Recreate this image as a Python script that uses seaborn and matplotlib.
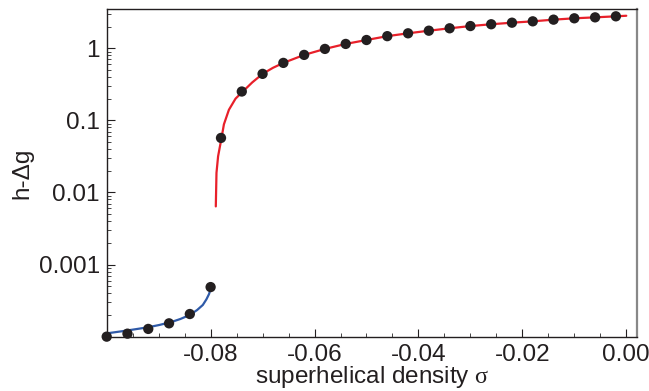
import matplotlib
matplotlib.use("Agg")
import matplotlib.pyplot as plt
import matplotlib.ticker as mticker
import seaborn as sns
import pandas as pd

# data points
sigma_low = [-0.100, -0.096, -0.092, -0.088, -0.084, -0.080]
dg_low = [1.0e-4, 1.1e-4, 1.28e-4, 1.53e-4, 2.06e-4, 4.87e-4]

sigma_high = [-0.078, -0.074, -0.070, -0.066, -0.062, -0.058, -0.054, -0.050,
              -0.046, -0.042, -0.038, -0.034, -0.030, -0.026, -0.022, -0.018,
              -0.014, -0.010, -0.006, -0.002]
dg_high = [0.057, 0.251, 0.441, 0.626, 0.808, 0.978, 1.147, 1.30, 1.47, 1.61,
           1.75, 1.89, 2.03, 2.15, 2.26, 2.36, 2.49, 2.60, 2.68, 2.77]

# fitted curves
fit_low_x = [-0.1000, -0.0970, -0.0947, -0.0920, -0.0899, -0.0875, -0.0858,
             -0.0840, -0.0826, -0.0815, -0.0808, -0.0803, -0.0800]
fit_low_y = [1.11e-4, 1.19e-4, 1.26e-4, 1.35e-4, 1.45e-4, 1.60e-4, 1.76e-4,
             2.00e-4, 2.34e-4, 2.75e-4, 3.30e-4, 3.90e-4, 4.60e-4]

fit_high_x = [-0.0790, -0.07887, -0.07856, -0.0779, -0.07744, -0.07648, -0.0752,
              -0.0738, -0.0720, -0.070, -0.068, -0.066, -0.062, -0.058, -0.054,
              -0.050, -0.046, -0.042, -0.038, -0.034, -0.030, -0.026, -0.022,
              -0.018, -0.014, -0.010, -0.006, -0.002, 0.000]
fit_high_y = [0.0064, 0.0187, 0.0317, 0.057, 0.088, 0.140, 0.200,
              0.251, 0.335, 0.441, 0.535, 0.626, 0.808, 0.978, 1.147,
              1.30, 1.47, 1.61, 1.75, 1.89, 2.03, 2.15, 2.26,
              2.36, 2.49, 2.60, 2.68, 2.77, 2.82]

y_ticks = [0.001, 0.01, 0.1, 1]
y_labels = ["0.001", "0.01", "0.1", "1"]
x_ticks = [-0.08, -0.06, -0.04, -0.02, 0.0]
x_labels = ["-0.08", "-0.06", "-0.04", "-0.02", "0.00"]

sns.set_style("ticks")
plt.rcParams['font.family'] = ['Liberation Sans', 'DejaVu Sans']
plt.rcParams['mathtext.fontset'] = 'custom'
plt.rcParams['mathtext.rm'] = 'Liberation Serif'

fig = plt.figure(figsize=(6.49, 3.91), dpi=100)
ax = fig.add_axes([0.1644, 0.139, 0.8166, 0.838])

sns.lineplot(x=fit_low_x, y=fit_low_y, ax=ax, color="#2f5aa8", lw=1.6, sort=False)
sns.lineplot(x=fit_high_x, y=fit_high_y, ax=ax, color="#e8202a", lw=1.6, sort=False)
dots = pd.DataFrame({"sigma": sigma_low + sigma_high, "dg": dg_low + dg_high})
sns.scatterplot(data=dots, x="sigma", y="dg", ax=ax, color="#231f20", s=55,
                edgecolor="none", zorder=5, clip_on=False)

ax.set_yscale("log")
ax.set_ylim(1e-4, 3.5)
ax.set_xlim(-0.1, 0.002)

ax.set_yticks(y_ticks)
ax.set_yticklabels(y_labels)
ax.yaxis.set_minor_locator(mticker.LogLocator(base=10, subs=range(2, 10)))
ax.yaxis.set_minor_formatter(mticker.NullFormatter())
ax.set_xticks(x_ticks)
ax.set_xticklabels(x_labels)
ax.xaxis.set_minor_locator(mticker.MultipleLocator(0.005))

ax.tick_params(axis="both", which="major", direction="in", length=6, width=0.8,
               labelsize=17.5, pad=5, colors="#231f20")
ax.tick_params(axis="both", which="minor", direction="in", length=3, width=0.6)

for side in ["top", "left", "bottom"]:
    ax.spines[side].set_color("#231f20")
    ax.spines[side].set_linewidth(1.0)
ax.spines["right"].set_color("#888888")
ax.spines["right"].set_linewidth(1.6)

ax.set_xlabel(r"superhelical density $\mathrm{\sigma}$", fontsize=17.5, labelpad=-1,
              color="#231f20")
ax.set_ylabel("h-Δg", fontsize=17.5, labelpad=4, color="#231f20")

fig.savefig("out.png", dpi=100)
